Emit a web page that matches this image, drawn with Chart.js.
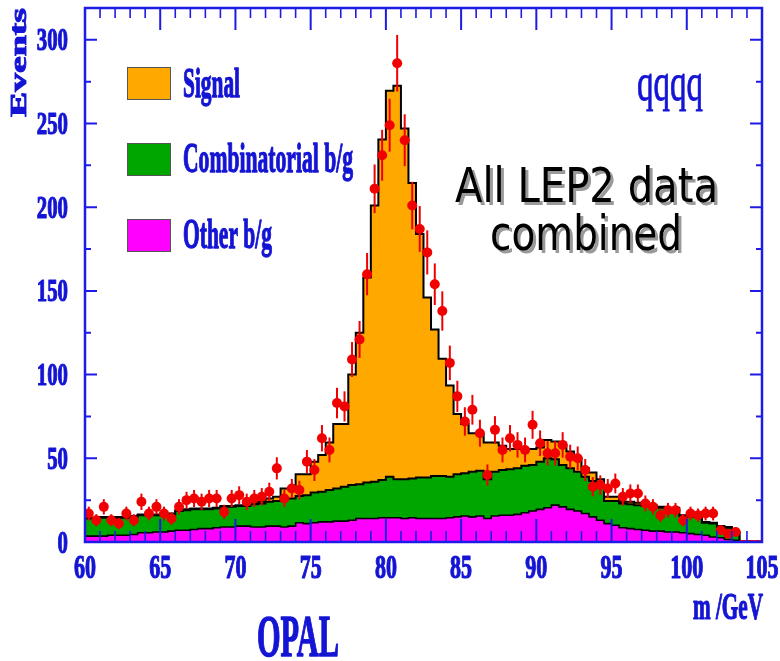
<!DOCTYPE html>
<html>
<head>
<meta charset="utf-8">
<title>OPAL qqqq - m /GeV</title>
<script src="https://cdn.jsdelivr.net/npm/chart.js@4.4.1/dist/chart.umd.min.js"></script>
<style>
  html, body { margin: 0; padding: 0; background: #fff; }
  #wrap { width: 780px; height: 661px; position: relative; }
</style>
</head>
<body>
<div id="wrap"><canvas id="massChart"></canvas></div>
<script>
// --- data: 0.5 GeV bins from 60 to 105 GeV ---
const binWidth = 0.5;
const binLowEdges = Array.from({ length: 90 }, (_, i) => 60 + binWidth * i);

const dataCounts = [
  17, 13, 21, 13, 11, 17, 13, 24, 17, 21,
  17, 14, 21, 25, 26, 24, 26, 26, 18, 26,
  28, 24, 26, 27, 30, 44, 26, 32, 31, 48,
  43, 62, 55, 83, 81, 109, 121, 160, 211, 231,
  249, 286, 240, 201, 187, 173, 154, 138, 107, 87,
  72, 79, 65, 40, 67, 55, 62, 58, 55, 70,
  59, 53, 53, 58, 51, 50, 43, 33, 34, 32,
  35, 27, 29, 29, 23, 21, 16, 19, 19, 13,
  17, 16, 17, 17, 7, 5, 6, 0, 0, 0
];

const otherBg = [
  3.5, 3.5, 3.5, 4, 4, 4, 4.5, 5.5, 5.5, 6,
  6, 6.5, 7, 7, 7.5, 8, 8, 8.5, 9, 9,
  9.5, 9.5, 9, 9, 9.5, 9.5, 9, 9.5, 11.5, 11,
  11.5, 12, 12, 12.5, 12.5, 13, 14, 14, 14, 14.5,
  14.5, 14.5, 14, 14.5, 14, 14, 14, 14, 14.5, 15,
  15.5, 15, 15.5, 14, 15.5, 16, 16, 16.5, 17.5, 18.5,
  19.5, 20.5, 22, 21, 19.5, 18.5, 17, 15, 13, 11,
  10, 8.5, 8, 7.5, 7, 6.5, 6.5, 6, 6, 5.5,
  5, 4.5, 4, 3, 2.5, 1.5, 1, 0, 0, 0
];

const combBg = [
  10.5, 10.5, 11, 10.5, 10.5, 10.5, 10.5, 10.5, 10.5, 10,
  10.5, 10, 11.5, 12, 12, 11.5, 11.5, 11.5, 12, 12,
  12, 12, 13.5, 14, 14.5, 15, 16.5, 16.5, 16, 17,
  18, 18, 19, 19.5, 20.5, 21, 20.5, 21.5, 22, 22.5,
  24.5, 23, 23.5, 23.5, 24.5, 24.5, 25.5, 25.5, 24.5, 25.5,
  25.5, 27, 27, 23.5, 26.5, 27, 27.5, 27.5, 28, 27.5,
  28.5, 29.5, 27.5, 25, 24.5, 23.5, 22, 21.5, 20.5, 13.5,
  14.5, 14.5, 14.5, 14.5, 14.5, 14.5, 14, 14, 13.5, 10,
  10, 10.5, 7.5, 8, 6.5, 7, 4.5, 0, 0, 0
];

const signalMC = [
  0.5, 0.5, 0.5, 0.5, 0.5, 0.5, 0.5, 0.5, 0.5, 0.5,
  0.5, 0.5, 0.5, 0.5, 0.5, 0.5, 0.5, 0.5, 0.5, 0.5,
  0.5, 0.5, 1, 1, 2, 2.5, 6.5, 6, 13, 12.5,
  18.5, 22, 28.5, 38.5, 37.5, 66, 90.5, 122.5, 165, 203.5,
  230.5, 235, 209.5, 176.5, 145.5, 107.5, 87.5, 70, 54.5, 36,
  29.5, 23, 22, 22, 17.5, 14.5, 12, 11.5, 10, 9.5,
  8.5, 11, 10.5, 12, 10, 8, 5, 5, 4, 2.5,
  2.5, 1, 1.5, 1.5, 1, 1, 0.5, 0.5, 1, 0.5,
  0.5, 0.5, 0.5, 0.5, 0.5, 0.5, 0.5, 0, 0, 0
];

const xTickLabels = [60, 65, 70, 75, 80, 85, 90, 95, 100, 105];
const yTickLabels = [0, 50, 100, 150, 200, 250, 300];

const legendLabels = ['Signal', 'Combinatorial b/g', 'Other b/g'];

// --- colours ---
const BLUE = '#1414d4';
const FRAME = '#1c1ce6';
const ORANGE = '#ffa800';
const GREEN = '#00a600';
const MAGENTA = '#ff00ff';
const RED = '#f00000';

// --- build stacked step outlines ---
const addArrays = (a, b) => a.map((v, i) => v + b[i]);
const otherTop = otherBg;
const combTop = addArrays(otherTop, combBg);
const totalTop = addArrays(combTop, signalMC);

const stepPoints = (values) => {
  const pts = [{ x: binLowEdges[0], y: 0 }];
  values.forEach((v, i) => pts.push({ x: binLowEdges[i], y: v }));
  pts.push({ x: binLowEdges[values.length - 1] + binWidth, y: 0 });
  return pts;
};

const dataPoints = [];
dataCounts.forEach((n, i) => {
  if (n > 0) dataPoints.push({ x: binLowEdges[i] + binWidth / 2, y: n });
});

// draw text squeezed to a measured width, optionally thickened
function fitText(ctx, text, x, baseline, font, width, align, color, thick) {
  ctx.save();
  ctx.font = font;
  ctx.fillStyle = color;
  ctx.strokeStyle = color;
  ctx.textAlign = 'left';
  ctx.textBaseline = 'alphabetic';
  const w = ctx.measureText(text).width;
  const sx = width / w;
  ctx.translate(x, baseline);
  ctx.scale(sx, 1);
  let off = 0;
  if (align === 'right') off = -w;
  else if (align === 'center') off = -w / 2;
  ctx.fillText(text, off, 0);
  if (thick) {
    ctx.lineWidth = thick;
    ctx.lineJoin = 'round';
    ctx.strokeText(text, off, 0);
  }
  ctx.restore();
}

// --- error bars and empty bins ---
const errorBarsPlugin = {
  id: 'errorBars',
  afterDatasetsDraw(chart) {
    const { ctx, scales: { x, y } } = chart;
    ctx.save();
    ctx.strokeStyle = RED;
    ctx.lineWidth = 2;
    dataCounts.forEach((n, i) => {
      const lo = binLowEdges[i];
      if (n > 0) {
        const err = Math.sqrt(n);
        const px = x.getPixelForValue(lo + binWidth / 2);
        ctx.beginPath();
        ctx.moveTo(px, y.getPixelForValue(n - err));
        ctx.lineTo(px, y.getPixelForValue(n + err));
        ctx.stroke();
      } else {
        ctx.beginPath();
        ctx.moveTo(x.getPixelForValue(lo), y.getPixelForValue(0) - 1);
        ctx.lineTo(x.getPixelForValue(lo + binWidth), y.getPixelForValue(0) - 1);
        ctx.stroke();
      }
    });
    ctx.restore();
  }
};

// --- frame, ticks, labels, legend, annotations ---
const framePlugin = {
  id: 'opalFrame',
  afterDraw(chart) {
    const { ctx, chartArea: a, scales: { x, y } } = chart;
    ctx.save();
    ctx.strokeStyle = FRAME;

    // x ticks every 1 GeV, long ones every 5
    for (let m = 60; m <= 105; m++) {
      const px = x.getPixelForValue(m);
      const major = m % 5 === 0;
      ctx.lineWidth = major ? 2 : 1.6;
      ctx.beginPath();
      ctx.moveTo(px, a.bottom);
      ctx.lineTo(px, a.bottom - (major ? 23 : 11));
      ctx.moveTo(px, a.top);
      ctx.lineTo(px, a.top + (major ? 22 : 10));
      ctx.stroke();
    }
    // y ticks every 25, long ones every 50
    for (let v = 0; v <= 300; v += 25) {
      const py = y.getPixelForValue(v);
      const major = v % 50 === 0;
      ctx.lineWidth = 2;
      ctx.beginPath();
      ctx.moveTo(a.left, py);
      ctx.lineTo(a.left + (major ? 12 : 6), py);
      ctx.moveTo(a.right, py);
      ctx.lineTo(a.right - (major ? 12 : 6), py);
      ctx.stroke();
    }
    ctx.lineWidth = 2.5;
    ctx.strokeRect(a.left, a.top, a.right - a.left, a.bottom - a.top);
    ctx.restore();

    const serifB = (s) => 'bold ' + s + 'px "Liberation Serif", "DejaVu Serif", serif';

    // tick labels
    yTickLabels.forEach((v) => {
      const t = String(v);
      fitText(ctx, t, 68, y.getPixelForValue(v) + 10.5, serifB(31), 10.4 * t.length, 'right', BLUE, 1.2);
    });
    xTickLabels.forEach((v) => {
      const t = String(v);
      fitText(ctx, t, x.getPixelForValue(v), 578, serifB(34), 11 * t.length, 'center', BLUE, 1.2);
    });

    // axis titles
    ctx.save();
    ctx.font = serifB(38);
    ctx.fillStyle = BLUE;
    ctx.strokeStyle = BLUE;
    const ew = ctx.measureText('Events').width;
    ctx.translate(26, 117);
    ctx.rotate(-Math.PI / 2);
    ctx.scale(109 / ew, 0.6);
    ctx.fillText('Events', 0, 0);
    ctx.lineWidth = 1.5;
    ctx.strokeText('Events', 0, 0);
    ctx.restore();

    fitText(ctx, 'm /GeV', 763, 619, serifB(37), 70, 'right', BLUE, 1.2);
    fitText(ctx, 'OPAL', 257, 656, serifB(60), 82, 'left', BLUE, 1.5);

    // legend
    const boxes = [
      { color: ORANGE, top: 67, base: 97, width: 57 },
      { color: GREEN, top: 143, base: 172, width: 170 },
      { color: MAGENTA, top: 219, base: 248, width: 89 }
    ];
    boxes.forEach((b, i) => {
      ctx.save();
      ctx.fillStyle = b.color;
      ctx.fillRect(127, b.top, 43, 32);
      ctx.strokeStyle = '#555';
      ctx.lineWidth = 1;
      ctx.strokeRect(127.5, b.top + 0.5, 43, 32);
      ctx.restore();
      fitText(ctx, legendLabels[i], 183, b.base, serifB(42), b.width, 'left', BLUE, 1.3);
    });

    // channel label
    fitText(ctx, 'qqqq', 637, 100, '52px "Liberation Serif", "DejaVu Serif", serif', 66, 'left', BLUE, 0.8);

    // annotation with shadow
    const sans = '48px "DejaVu Sans", Verdana, sans-serif';
    [['All LEP2 data', 455, 202, 263], ['combined', 490, 250, 192]].forEach(([t, tx, ty, tw]) => {
      fitText(ctx, t, tx + 3, ty + 3, sans, tw, 'left', '#9a9a9a');
      fitText(ctx, t, tx, ty, sans, tw, 'left', '#000');
    });
  }
};

const ctx = document.getElementById('massChart');
new Chart(ctx, {
  type: 'line',
  data: {
    datasets: [
      {
        label: 'Data',
        data: dataPoints,
        showLine: false,
        pointRadius: 5,
        pointBackgroundColor: RED,
        pointBorderColor: RED,
        pointBorderWidth: 0,
        order: 0
      },
      {
        label: legendLabels[2],
        data: stepPoints(otherTop),
        stepped: 'before',
        fill: 'origin',
        backgroundColor: MAGENTA,
        borderColor: '#000',
        borderWidth: 1.6,
        pointRadius: 0,
        order: 1
      },
      {
        label: legendLabels[1],
        data: stepPoints(combTop),
        stepped: 'before',
        fill: 'origin',
        backgroundColor: GREEN,
        borderColor: '#000',
        borderWidth: 2,
        pointRadius: 0,
        order: 2
      },
      {
        label: legendLabels[0],
        data: stepPoints(totalTop),
        stepped: 'before',
        fill: 'origin',
        backgroundColor: ORANGE,
        borderColor: '#000',
        borderWidth: 2,
        pointRadius: 0,
        order: 3
      }
    ]
  },
  options: {
    responsive: true,
    maintainAspectRatio: false,
    animation: false,
    layout: { padding: { left: 85, right: 18, top: 8, bottom: 119 } },
    scales: {
      x: { type: 'linear', min: 60, max: 105, display: false },
      y: { type: 'linear', min: 0, max: 319, display: false }
    },
    plugins: {
      legend: { display: false },
      tooltip: { enabled: false }
    },
    elements: { line: { tension: 0 } }
  },
  plugins: [errorBarsPlugin, framePlugin]
});
</script>
</body>
</html>
